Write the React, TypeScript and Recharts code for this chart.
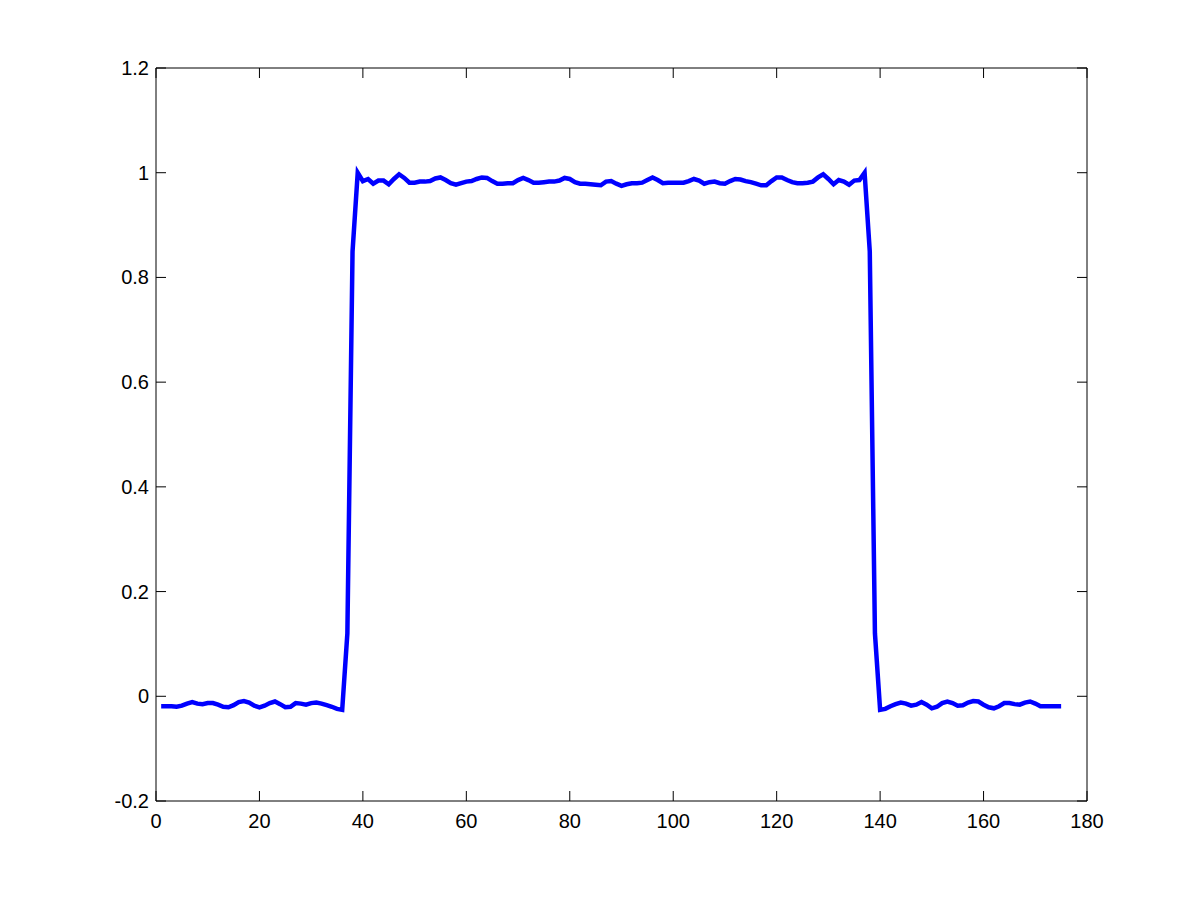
import React from "react";
import { LineChart, Line, XAxis, YAxis } from "recharts";

// Signal values for samples 1..175
const lowLeft: number[] = [
  -0.019, -0.019, -0.019, -0.02, -0.018, -0.014, -0.011, -0.014, -0.015, -0.013,
  -0.013, -0.016, -0.02, -0.021, -0.017, -0.011, -0.009, -0.012, -0.018, -0.021,
  -0.018, -0.013, -0.01, -0.015, -0.021, -0.02, -0.013, -0.014, -0.016, -0.013,
  -0.012, -0.014, -0.017, -0.02, -0.024, -0.026,
];
const riseEdge: number[] = [0.12, 0.85];
const plateau: number[] = [
  1.0, 0.984, 0.988, 0.979, 0.985, 0.985, 0.978, 0.988, 0.997, 0.99,
  0.981, 0.981, 0.983, 0.983, 0.984, 0.989, 0.991, 0.986, 0.98, 0.977,
  0.98, 0.983, 0.984, 0.988, 0.991, 0.99, 0.984, 0.979, 0.979, 0.98,
  0.98, 0.986, 0.99, 0.986, 0.981, 0.981, 0.982, 0.983, 0.983, 0.985,
  0.99, 0.988, 0.982, 0.979, 0.979, 0.978, 0.977, 0.976, 0.983, 0.984,
  0.979, 0.975, 0.978, 0.98, 0.98, 0.981, 0.986, 0.991, 0.986, 0.98,
  0.981, 0.981, 0.981, 0.981, 0.984, 0.988, 0.985, 0.979, 0.982, 0.983,
  0.98, 0.979, 0.984, 0.988, 0.987, 0.984, 0.982, 0.979, 0.976, 0.976,
  0.984, 0.991, 0.991, 0.986, 0.982, 0.98, 0.98, 0.981, 0.983, 0.991,
  0.997, 0.988, 0.978, 0.986, 0.983, 0.977, 0.985, 0.986, 1.0,
];
const fallEdge: number[] = [0.85, 0.12];
const lowRight: number[] = [
  -0.026, -0.024, -0.019, -0.015, -0.012, -0.014, -0.018, -0.016, -0.011, -0.016,
  -0.023, -0.02, -0.013, -0.01, -0.013, -0.018, -0.017, -0.012, -0.009, -0.01,
  -0.016, -0.021, -0.023, -0.019, -0.013, -0.013, -0.015, -0.016, -0.012, -0.01,
  -0.014, -0.019, -0.019, -0.019, -0.019, -0.019,
];

const xTicks: number[] = [0, 20, 40, 60, 80, 100, 120, 140, 160, 180];
const xTickLabels: string[] = ["0", "20", "40", "60", "80", "100", "120", "140", "160", "180"];
const yTicks: number[] = [-0.2, 0, 0.2, 0.4, 0.6, 0.8, 1, 1.2];
const yTickLabels: string[] = ["-0.2", "0", "0.2", "0.4", "0.6", "0.8", "1", "1.2"];

const values: number[] = [...lowLeft, ...riseEdge, ...plateau, ...fallEdge, ...lowRight];
const data = values.map((v, i) => ({ x: i + 1, y: v }));

const fmtX = (v: number) => {
  const i = xTicks.indexOf(v);
  return i >= 0 ? xTickLabels[i] : String(v);
};
const fmtY = (v: number) => {
  const i = yTicks.findIndex((t) => Math.abs(t - v) < 1e-9);
  return i >= 0 ? yTickLabels[i] : String(v);
};

const FONT = "Arial, 'Liberation Sans', sans-serif";
const FS = 20;
const TL = 10;
const axisLine = { stroke: "#000", strokeWidth: 1 };

const BottomTick = (p: any) => (
  <g>
    <line x1={p.x} x2={p.x} y1={p.y} y2={p.y - TL} stroke="#000" strokeWidth={1} />
    <text x={p.x} y={p.y + 27} textAnchor="middle" fill="#000" fontSize={FS} fontFamily={FONT}>
      {fmtX(p.payload.value)}
    </text>
  </g>
);
const TopTick = (p: any) => (
  <line x1={p.x} x2={p.x} y1={p.y} y2={p.y + TL} stroke="#000" strokeWidth={1} />
);
const LeftTick = (p: any) => (
  <g>
    <line x1={p.x} x2={p.x + TL} y1={p.y} y2={p.y} stroke="#000" strokeWidth={1} />
    <text x={p.x - 7} y={p.y + 7} textAnchor="end" fill="#000" fontSize={FS} fontFamily={FONT}>
      {fmtY(p.payload.value)}
    </text>
  </g>
);
const RightTick = (p: any) => (
  <line x1={p.x} x2={p.x - TL} y1={p.y} y2={p.y} stroke="#000" strokeWidth={1} />
);

export default function App() {
  return (
    <div style={{ width: 1185, height: 885, background: "#fff" }}>
      <LineChart width={1185} height={885} data={data} margin={{ top: 0, right: 0, bottom: 0, left: 0 }}>
        <XAxis
          xAxisId="bottom"
          dataKey="x"
          type="number"
          orientation="bottom"
          domain={[0, 180]}
          ticks={xTicks}
          height={92}
          tickSize={0}
          tickMargin={0}
          axisLine={axisLine}
          tickLine={false}
          tick={<BottomTick />}
          interval={0}
          allowDataOverflow
        />
        <XAxis
          xAxisId="top"
          dataKey="x"
          type="number"
          orientation="top"
          domain={[0, 180]}
          ticks={xTicks}
          height={60}
          tickSize={0}
          tickMargin={0}
          axisLine={axisLine}
          tickLine={false}
          tick={<TopTick />}
          interval={0}
          allowDataOverflow
        />
        <YAxis
          yAxisId="left"
          type="number"
          orientation="left"
          domain={[-0.2, 1.2]}
          ticks={yTicks}
          width={148}
          tickSize={0}
          tickMargin={0}
          axisLine={axisLine}
          tickLine={false}
          tick={<LeftTick />}
          interval={0}
          allowDataOverflow
        />
        <YAxis
          yAxisId="right"
          type="number"
          orientation="right"
          domain={[-0.2, 1.2]}
          ticks={yTicks}
          width={106}
          tickSize={0}
          tickMargin={0}
          axisLine={axisLine}
          tickLine={false}
          tick={<RightTick />}
          interval={0}
          allowDataOverflow
        />
        <Line
          xAxisId="top"
          yAxisId="right"
          dataKey="y"
          stroke="none"
          dot={false}
          activeDot={false}
          isAnimationActive={false}
        />
        <Line
          xAxisId="bottom"
          yAxisId="left"
          dataKey="y"
          type="linear"
          stroke="#0000ff"
          strokeWidth={4.5}
          strokeLinejoin="miter"
          dot={false}
          activeDot={false}
          isAnimationActive={false}
        />
      </LineChart>
    </div>
  );
}
